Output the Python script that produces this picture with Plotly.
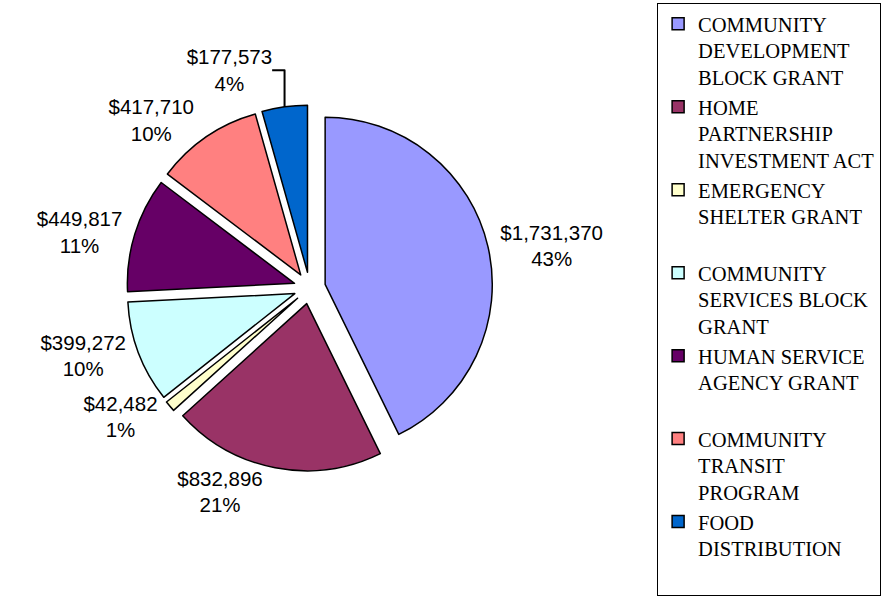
import plotly.graph_objects as go

labels = [
    "COMMUNITY<br>DEVELOPMENT<br>BLOCK GRANT",
    "HOME<br>PARTNERSHIP<br>INVESTMENT ACT",
    "EMERGENCY<br>SHELTER GRANT<br> ",
    "COMMUNITY<br>SERVICES BLOCK<br>GRANT",
    "HUMAN SERVICE<br>AGENCY GRANT<br> ",
    "COMMUNITY<br>TRANSIT<br>PROGRAM",
    "FOOD<br>DISTRIBUTION<br> ",
]
values = [1731370, 832896, 42482, 399272, 449817, 417710, 177573]
colors = ["#9999FF", "#993366", "#FFFFCC", "#CCFFFF", "#660066", "#FF8080", "#0066CC"]
pulls = [0.095] * 7

W, H = 892, 603
cx, cy, half = 297, 288, 187

fig = go.Figure(go.Pie(
    labels=labels,
    values=values,
    sort=False,
    direction="clockwise",
    rotation=0,
    pull=pulls,
    marker=dict(colors=colors, line=dict(color="black", width=1.5)),
    textposition="outside",
    texttemplate="$%{value:,.0f}<br>%{percent:.0%}",
    textfont=dict(family="Liberation Sans, Arial, sans-serif", size=20.5, color="black"),
    hoverinfo="label+value+percent",
    domain=dict(x=[(cx - half) / W, (cx + half) / W],
                y=[(H - cy - half) / H, (H - cy + half) / H]),
))

fig.update_layout(
    width=W, height=H,
    margin=dict(l=0, r=0, t=0, b=0),
    paper_bgcolor="white",
    plot_bgcolor="white",
    showlegend=True,
    legend=dict(
        x=652 / W, y=1 - 3 / H, xanchor="left", yanchor="top",
        bordercolor="black", borderwidth=1,
        bgcolor="white",
        valign="top",
        font=dict(family="Liberation Serif, Times New Roman, serif", size=20.5, color="black"),
        traceorder="normal",
    ),
)

fig.write_html("out.html",
               config={"displayModeBar": False},
               post_script="document.body.style.margin='0';document.body.style.padding='0';")
